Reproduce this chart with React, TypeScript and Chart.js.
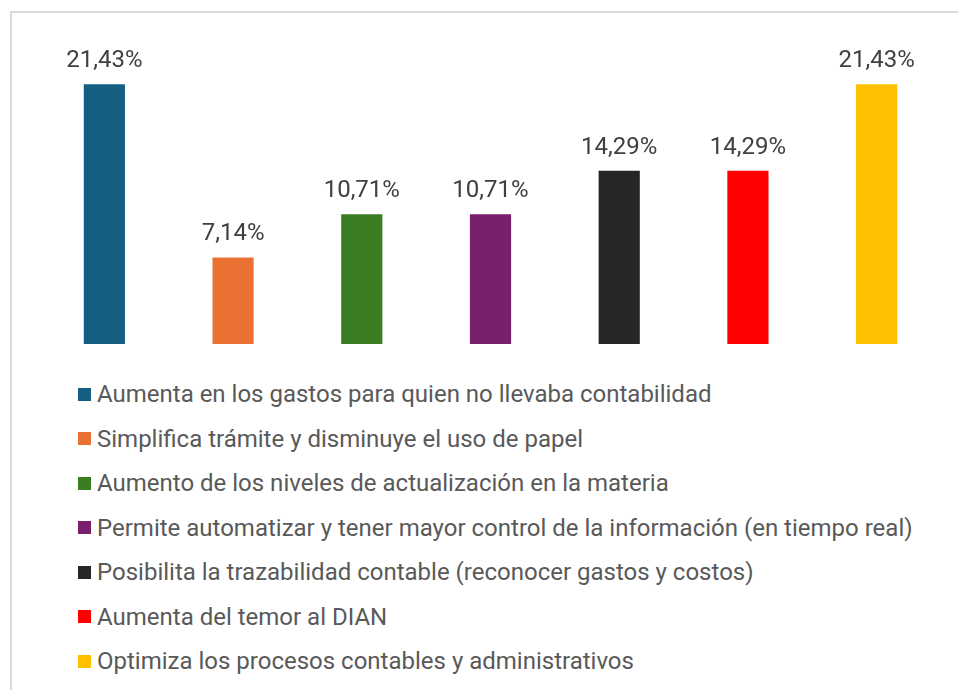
import React, { useEffect, useRef } from "react";
import { Chart, registerables } from "chart.js";

Chart.register(...registerables);

const categories = [
  "Aumenta en los gastos para quien no llevaba contabilidad",
  "Simplifica trámite y disminuye el uso de papel",
  "Aumento de los niveles de actualización en la materia",
  "Permite automatizar y tener mayor control de la información (en tiempo real)",
  "Posibilita la trazabilidad contable (reconocer gastos y costos)",
  "Aumenta del temor al DIAN",
  "Optimiza los procesos contables y administrativos",
];

const values = [21.43, 7.14, 10.71, 10.71, 14.29, 14.29, 21.43];

const colors = ["#156082", "#E97132", "#3A7D22", "#7A1F6E", "#262626", "#FF0000", "#FFC000"];

const fmt = (v: number) => v.toFixed(2).replace(".", ",") + "%";

const valueLabels = {
  id: "valueLabels",
  afterDatasetsDraw(chart: any) {
    const ctx = chart.ctx;
    const meta = chart.getDatasetMeta(0);
    ctx.save();
    ctx.font = "24px Roboto";
    ctx.fillStyle = "#404040";
    ctx.textAlign = "center";
    ctx.textBaseline = "alphabetic";
    meta.data.forEach((bar: any, i: number) => {
      const v = chart.data.datasets[0].data[i];
      ctx.fillText(fmt(v), bar.x, bar.y - 17);
    });
    ctx.restore();
  },
};

export default function App() {
  const ref = useRef<HTMLCanvasElement>(null);
  useEffect(() => {
    if (!ref.current) return;
    const chart = new Chart(ref.current, {
      type: "bar",
      data: {
        labels: categories,
        datasets: [
          {
            data: values,
            backgroundColor: colors,
            borderWidth: 0,
            barPercentage: 0.32,
            categoryPercentage: 1,
          },
        ],
      },
      options: {
        responsive: false,
        animation: false,
        layout: { padding: { left: 40, right: 17, top: 41, bottom: 16 } },
        plugins: { legend: { display: false }, tooltip: { enabled: false } },
        scales: {
          x: { display: false },
          y: { display: false, min: 0, max: 25 },
        },
      },
      plugins: [valueLabels],
    });
    return () => chart.destroy();
  }, []);

  return (
    <div style={{ position: "fixed", left: 0, top: 0, width: 958, height: 690, background: "#fff", overflow: "hidden" }}>
      <div
        style={{
          position: "absolute",
          left: 10,
          top: 11,
          width: 948,
          height: 679,
          borderTop: "2px solid #d9d9d9",
          borderLeft: "2px solid #d9d9d9",
          boxSizing: "border-box",
        }}
      />
      <canvas ref={ref} width={958} height={360} style={{ position: "absolute", left: 0, top: 0, width: 958, height: 360 }} />
      <div style={{ position: "absolute", left: 78, top: 372, fontFamily: "Roboto", fontSize: 24, color: "#595959" }}>
        {categories.map((c, i) => (
          <div key={i} style={{ height: 44.5, display: "flex", alignItems: "center", whiteSpace: "nowrap" }}>
            <span style={{ display: "inline-block", width: 13, height: 13, background: colors[i], marginRight: 6, flex: "none" }} />
            <span>{c}</span>
          </div>
        ))}
      </div>
    </div>
  );
}
